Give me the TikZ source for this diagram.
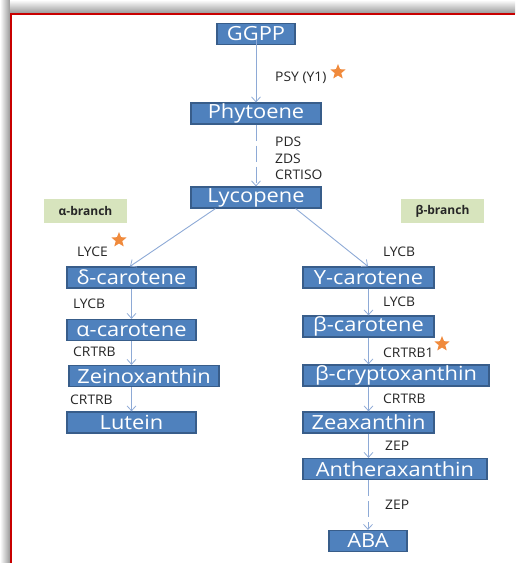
\documentclass[tikz,border=0pt]{standalone}
\usepackage{fontspec}
\setmainfont{Open Sans}
\newfontfamily\boxfont[FakeStretch=1.12]{Open Sans}
\newfontfamily\enzfont[FakeStretch=1.05]{Open Sans}
\usetikzlibrary{arrows.meta,shapes.geometric,calc}
\definecolor{boxfill}{HTML}{4F81BD}
\definecolor{boxline}{HTML}{385D8A}
\definecolor{arrowcol}{HTML}{8EAAD6}
\definecolor{branchfill}{HTML}{D7E4BD}
\definecolor{starcol}{HTML}{F08A3C}
\definecolor{framered}{HTML}{C80000}
\tikzset{
  cbox/.style={draw=boxline, line width=1.2pt, fill=boxfill, text=white, inner sep=0pt,
    font=\boxfont\fontsize{19.5}{19.5}\selectfont, minimum height=21pt},
  branchbox/.style={fill=branchfill, inner sep=0pt, minimum width=83pt, minimum height=24pt,
    font=\fontsize{12}{12}\selectfont\bfseries, text=black!85},
  enz/.style={anchor=west, inner sep=0pt, font=\enzfont\fontsize{13.2}{13.2}\selectfont, text=black!85},
  conn/.style={draw=arrowcol, line width=0.9pt, -{Straight Barb[length=5pt,width=9pt,line width=0.8pt]}},
  dconn/.style={conn, dash pattern=on 16pt off 5pt},
  orstar/.style={star, star points=5, star point ratio=2.3, fill=starcol, inner sep=0pt, minimum size=16pt}
}
\begin{document}
\begin{tikzpicture}[x=1pt,y=-1pt]
\useasboundingbox (0,0) rectangle (515,563);
% frame shadow and red frame
\shade[left color=white, right color=black!40] (0,0) rectangle (10,563);
\shade[top color=white, bottom color=black!40] (10,0) rectangle (515,13.3);
\draw[framered, line width=2pt] (11,563) -- (11,14.3) -- (515,14.3);

% nodes
\node[cbox, minimum width=78pt] (ggpp) at (256,34) {GGPP};
\node[cbox, minimum width=130pt] (phyt) at (256,113.5) {Phytoene};
\node[cbox, minimum width=130pt] (lyco) at (256,197.5) {Lycopene};
\node[branchbox] (ab) at (85.5,211) {α-branch};
\node[branchbox] (bb) at (442.5,211) {β-branch};
\node[cbox, minimum width=129pt] (dcar) at (131.5,277.5) {δ-carotene};
\node[cbox, minimum width=129pt] (acar) at (131.5,330) {α-carotene};
\node[cbox, minimum width=150pt] (zein) at (144,376) {Zeinoxanthin};
\node[cbox, minimum width=129pt] (lut) at (131.5,422.5) {Lutein};
\node[cbox, minimum width=131pt] (ycar) at (368.5,277.5) {Υ-carotene};
\node[cbox, minimum width=131pt] (bcar) at (368.5,326.5) {β-carotene};
\node[cbox, minimum width=186pt] (bcry) at (396,375.5) {β-cryptoxanthin};
\node[cbox, minimum width=131pt] (zea) at (368.5,422.5) {Zeaxanthin};
\node[cbox, minimum width=184pt] (anth) at (395,469) {Antheraxanthin};
\node[cbox, minimum width=78pt] (aba) at (368,541) {ABA};

% connectors
\draw[conn] ([yshift=5pt]ggpp.south) -- (phyt.north);
\draw[dconn] (phyt.south) -- (lyco.north);
\draw[conn] ([xshift=25pt]lyco.south west) -- ([xshift=-1.5pt]dcar.north);
\draw[conn] ([xshift=-26pt]lyco.south east) -- ([xshift=-0.5pt]ycar.north);
\draw[conn] (dcar.south) -- (acar.north);
\draw[conn] (acar.south) -- (zein.north -| acar.south);
\draw[conn] (zein.south -| lut.north) -- (lut.north);
\draw[conn] (ycar.south) -- (bcar.north);
\draw[conn] (bcar.south) -- (bcry.north -| bcar.south);
\draw[conn] (bcry.south -| zea.north) -- (zea.north);
\draw[conn] (zea.south) -- (anth.north -| zea.south);
\draw[dconn] (anth.south -| aba.north) -- (aba.north);

% enzyme labels
\node[enz] (psy) at (275,78) {PSY (Y1)};
\node[orstar] (s1) at (338,72) {};
\node[enz] (pds) at (275,142) {PDS};
\node[enz] (zds) at (275,158.5) {ZDS};
\node[enz] (crtiso) at (275,175) {CRTISO};
\node[enz] (lyce) at (77,252) {LYCE};
\node[orstar] (s2) at (119,240) {};
\node[enz] (lycb1) at (383,252) {LYCB};
\node[enz] (lycb2) at (73,304) {LYCB};
\node[enz] (lycb3) at (383,302) {LYCB};
\node[enz] (crtrb1) at (73,352) {CRTRB};
\node[enz] (crtrbb) at (383,353) {CRTRB1};
\node[orstar] (s3) at (442,344) {};
\node[enz] (crtrb2) at (70,400) {CRTRB};
\node[enz] (crtrb3) at (383,399) {CRTRB};
\node[enz] (zep1) at (385,446) {ZEP};
\node[enz] (zep2) at (385,505) {ZEP};
\end{tikzpicture}
\end{document}
